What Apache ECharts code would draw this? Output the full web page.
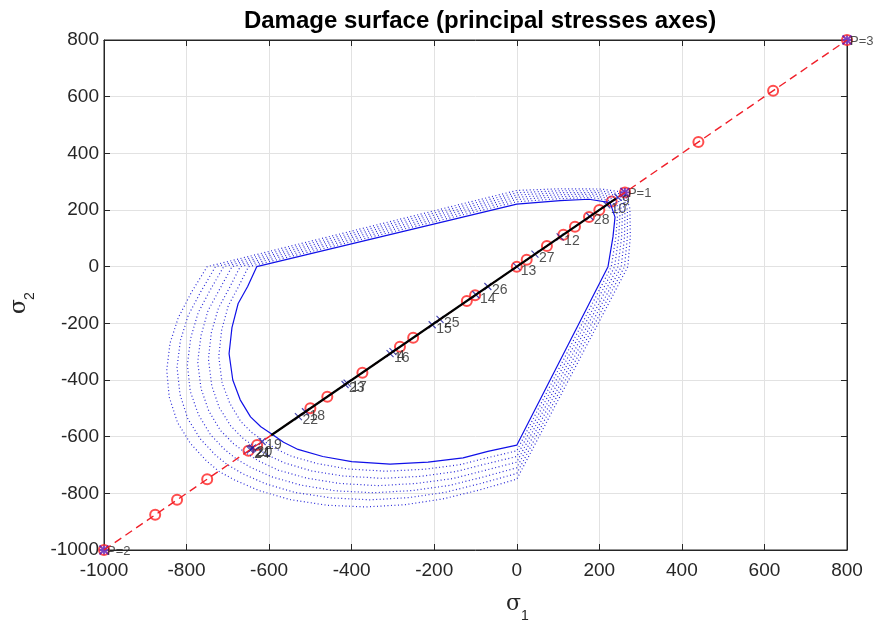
<!DOCTYPE html>
<html>
<head>
<meta charset="utf-8">
<script src="https://cdn.jsdelivr.net/npm/echarts@6/dist/echarts.min.js"></script>
<style>
html,body{margin:0;padding:0;background:#fff}
#chart{width:874px;height:626px}
</style>
</head>
<body>
<div id="chart"></div>
<script>
// half of each damage surface, from the tension diagonal round to the compression diagonal
// (the other half is the mirror about sigma1 = sigma2)
var ring1 = [[226,226],[175,238],[105,233],[0,221],[-630,0],[-652,-70],[-675,-130],[-690,-215],[-697,-307],[-688,-400],[-670,-470],[-645,-530],[-620,-565],[-592,-592]];
var ring2 = [[232,232],[180,244],[105,240],[0,229],[-650,0],[-675,-73],[-699,-138],[-715,-224],[-722,-317],[-714,-410],[-695,-483],[-669,-546],[-642,-585],[-614,-614]];
var ring3 = [[238,238],[185,250],[105,247],[0,237],[-670,0],[-697,-77],[-723,-147],[-740,-233],[-747,-326],[-739,-420],[-721,-497],[-693,-562],[-664,-605],[-635,-635]];
var ring4 = [[244,244],[190,256],[105,254],[0,245],[-690,0],[-720,-80],[-748,-155],[-765,-243],[-773,-336],[-765,-430],[-746,-510],[-718,-578],[-686,-625],[-657,-657]];
var ring5 = [[250,250],[195,262],[105,261],[0,253],[-710,0],[-743,-83],[-772,-163],[-790,-252],[-798,-346],[-791,-440],[-771,-523],[-742,-593],[-708,-645],[-679,-679]];
var ring6 = [[256,256],[200,268],[105,268],[0,261],[-730,0],[-765,-87],[-796,-172],[-815,-261],[-823,-355],[-816,-450],[-797,-537],[-766,-609],[-730,-665],[-700,-700]];
var ring7 = [[262,262],[205,274],[105,275],[0,269],[-750,0],[-788,-90],[-820,-180],[-840,-270],[-848,-365],[-842,-460],[-822,-550],[-790,-625],[-752,-685],[-722,-722]];

// load path on the diagonal (sigma1 = sigma2)
var pathEnds = [-1000, 800];
var loadPts = [-1000,-876,-823,-750,-650,-629,-500,-459,-374,-283,-251,-121,-101,0,24,73,113,141,175,200,230,262,440,621,800];
var solidPath = [-595, 240];
var stepVals = [-646,-643,-640,-617,-529,-512,-416,-411,-307,-300,-205,-186,-99,-70,0,44,105,177,218,245];
var stepLabels = ['24','21','20','19','22','18','23','17','16','4','15','25','14','26','13','27','12','28','10','9'];
var pVals = [262,-1000,800];
var pLabels = ['P=1','P=2','P=3'];

function fullRing(half){
  var out = half.slice();
  for(var i=half.length-2;i>=0;i--){
    out.push([half[i][1],half[i][0]]);
  }
  return out;
}
function diag(v){ return [v,v]; }

var rings = [ring1,ring2,ring3,ring4,ring5,ring6,ring7];
var series = [];
rings.forEach(function(r,i){
  series.push({
    type:'line', data:fullRing(r), showSymbol:false, silent:true,
    lineStyle: i==0 ? {color:'#1010e8',width:1.2} : {color:'#2a2ad8',width:1.2,type:[1,2.5]}
  });
});
series.push({
  type:'line', data:pathEnds.map(diag), showSymbol:false, silent:true,
  lineStyle:{color:'#f0202a',width:1.4,type:[8,5]}
});
series.push({
  type:'line', data:solidPath.map(diag), showSymbol:false, silent:true,
  lineStyle:{color:'#000',width:2.2}
});
series.push({
  type:'scatter', data:loadPts.map(diag), symbol:'emptyCircle', symbolSize:10, clip:false,
  itemStyle:{color:'#ff2020',borderWidth:1,opacity:0.8}
});
series.push({
  type:'scatter', clip:false,
  data:stepVals.map(function(v,i){ return {value:diag(v), name:stepLabels[i]}; }),
  symbol:'path://M0,0L10,10M10,0L0,10', symbolSize:7,
  itemStyle:{color:'none',borderColor:'#1a1aa0',borderWidth:1.2},
  label:{show:true,position:'right',distance:-2,offset:[0,4],formatter:'{b}',color:'#262626',fontSize:14,fontFamily:'Liberation Sans'}
});
series.push({
  type:'scatter', clip:false,
  data:pVals.map(function(v,i){ return {value:diag(v), name:pLabels[i]}; }),
  symbol:'path://M0,0L10,10M10,0L0,10M5,0L5,10M0,5L10,5', symbolSize:9,
  itemStyle:{color:'none',borderColor:'#5a10b0',borderWidth:1.8},
  label:{show:true,position:'right',distance:-4,offset:[0,1],formatter:'{b}',color:'#262626',fontSize:13,fontFamily:'Liberation Sans'}
});

function plain(v){ return String(v); }
var axisCommon = {
  type:'value', min:-1000, max:800, interval:200,
  axisLine:{show:true,onZero:false,lineStyle:{color:'#262626'}},
  axisTick:{inside:true,length:6,lineStyle:{color:'#262626'}},
  axisLabel:{fontSize:19,color:'#262626',fontFamily:'Liberation Sans',formatter:plain},
  splitLine:{show:true,lineStyle:{color:'#e2e2e2'}}
};
// box axes on top and right, ticks only
var boxAxis = {
  type:'value', min:-1000, max:800, interval:200,
  axisLine:{show:true,onZero:false,lineStyle:{color:'#262626'}},
  axisTick:{inside:true,length:6,lineStyle:{color:'#262626'}},
  axisLabel:{show:false}, splitLine:{show:false}
};

var chart = echarts.init(document.getElementById('chart'));
chart.setOption({
  animation:false,
  title:{
    text:'Damage surface (principal stresses axes)',
    left:475, top:4, textAlign:'center',
    textStyle:{fontSize:24,fontWeight:'bold',color:'#000',fontFamily:'Liberation Sans'}
  },
  grid:{left:104,right:27,top:40,bottom:76,show:true,borderColor:'#262626',borderWidth:1},
  xAxis:[
    Object.assign({},axisCommon,{axisLabel:Object.assign({},axisCommon.axisLabel,{margin:11})}),
    Object.assign({},boxAxis,{position:'top'})
  ],
  yAxis:[
    Object.assign({},axisCommon,{axisLabel:Object.assign({},axisCommon.axisLabel,{margin:5})}),
    Object.assign({},boxAxis,{position:'right'})
  ],
  graphic:[
    {type:'text',left:506,top:593,style:{text:'σ',fontSize:22,fill:'#262626',fontFamily:'DejaVu Serif'}},
    {type:'text',left:521,top:609,style:{text:'1',fontSize:14,fill:'#262626',fontFamily:'Liberation Sans'}},
    {type:'group',x:8,y:314,rotation:Math.PI/2,children:[
      {type:'text',x:0,y:0,style:{text:'σ',fontSize:22,fill:'#262626',fontFamily:'DejaVu Serif'}},
      {type:'text',x:14,y:15,style:{text:'2',fontSize:14,fill:'#262626',fontFamily:'Liberation Sans'}}
    ]}
  ],
  series:series
});
</script>
</body>
</html>
